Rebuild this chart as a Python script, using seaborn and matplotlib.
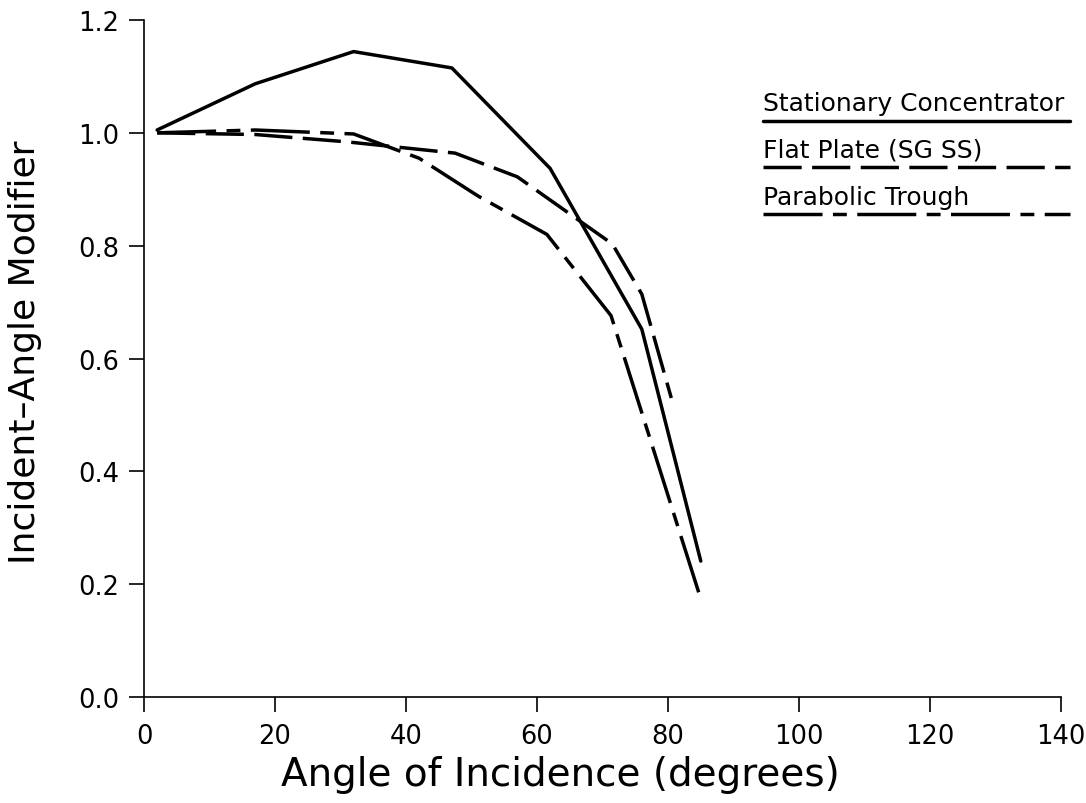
import numpy as np
import pandas as pd
import matplotlib
matplotlib.use("Agg")
import matplotlib.pyplot as plt
import seaborn as sns

# =========================================
# DATA
# =========================================
series_names = ["Stationary Concentrator", "Flat Plate (SG SS)", "Parabolic Trough"]

stat_x = [2, 17, 32, 47, 62, 76, 85]
stat_y = [1.005, 1.087, 1.144, 1.115, 0.937, 0.652, 0.241]

flat_x = [2, 17, 31, 47.5, 57, 71.5, 76, 80.5]
flat_y = [1.0, 0.997, 0.984, 0.964, 0.922, 0.803, 0.714, 0.53]

trough_x = [2, 17, 32, 42, 51, 61.5, 71.3, 85]
trough_y = [1.0, 1.005, 0.998, 0.955, 0.888, 0.82, 0.676, 0.174]

x_ticks = [0, 20, 40, 60, 80, 100, 120, 140]
y_ticks = [0.0, 0.2, 0.4, 0.6, 0.8, 1.0, 1.2]

# long table for seaborn
df = pd.concat([
    pd.DataFrame({"angle": stat_x, "iam": stat_y, "series": series_names[0]}),
    pd.DataFrame({"angle": flat_x, "iam": flat_y, "series": series_names[1]}),
    pd.DataFrame({"angle": trough_x, "iam": trough_y, "series": series_names[2]}),
])

dash_map = {
    series_names[0]: "",
    series_names[1]: (11, 3),
    series_names[2]: (17, 3, 4, 3),
}

# =========================================
# PLOT
# =========================================
sns.set_theme(style="ticks")
plt.rcParams["font.family"] = ["DejaVu Sans"]

fig = plt.figure(figsize=(10.86, 8.04), dpi=100)
ax = fig.add_axes([0.1326, 0.1318, 0.8444, 0.8421])

sns.lineplot(data=df, x="angle", y="iam", style="series", dashes=dash_map,
             color="black", linewidth=2.5, legend=False, sort=False,
             estimator=None, ax=ax)

ax.set_xlim(0, 140)
ax.set_ylim(0, 1.2)
ax.set_xticks(x_ticks)
ax.set_yticks(y_ticks)
ax.set_xticklabels([str(t) for t in x_ticks])
ax.set_yticklabels([f"{t:.1f}" for t in y_ticks])
ax.tick_params(direction="out", length=11, width=1.2, colors="black",
               labelsize=18.5)
ax.tick_params(axis="x", pad=8)
ax.tick_params(axis="y", pad=7)

for side in ["top", "right"]:
    ax.spines[side].set_visible(False)
for side in ["left", "bottom"]:
    ax.spines[side].set_linewidth(1.2)
    ax.spines[side].set_color("black")

ax.set_xlabel("Angle of Incidence (degrees)", fontsize=28, color="black")
ax.xaxis.set_label_coords(0.454, -0.085)
ax.set_ylabel("Incident\u2013Angle Modifier", fontsize=26, color="black")
ax.yaxis.set_label_coords(-0.111, 0.51)

# legend: text with the line style drawn underneath
leg_y = [0.851, 0.783, 0.713]
for name, ly in zip(series_names, leg_y):
    ax.text(0.675, ly + 0.008, name, transform=ax.transAxes, fontsize=18,
            ha="left", va="bottom", color="black")
    line, = ax.plot([0.675, 1.01], [ly, ly], transform=ax.transAxes,
                    color="black", linewidth=2.5, clip_on=False)
    if dash_map[name]:
        line.set_dashes(dash_map[name])

fig.savefig("out.png", dpi=100, facecolor="white")
